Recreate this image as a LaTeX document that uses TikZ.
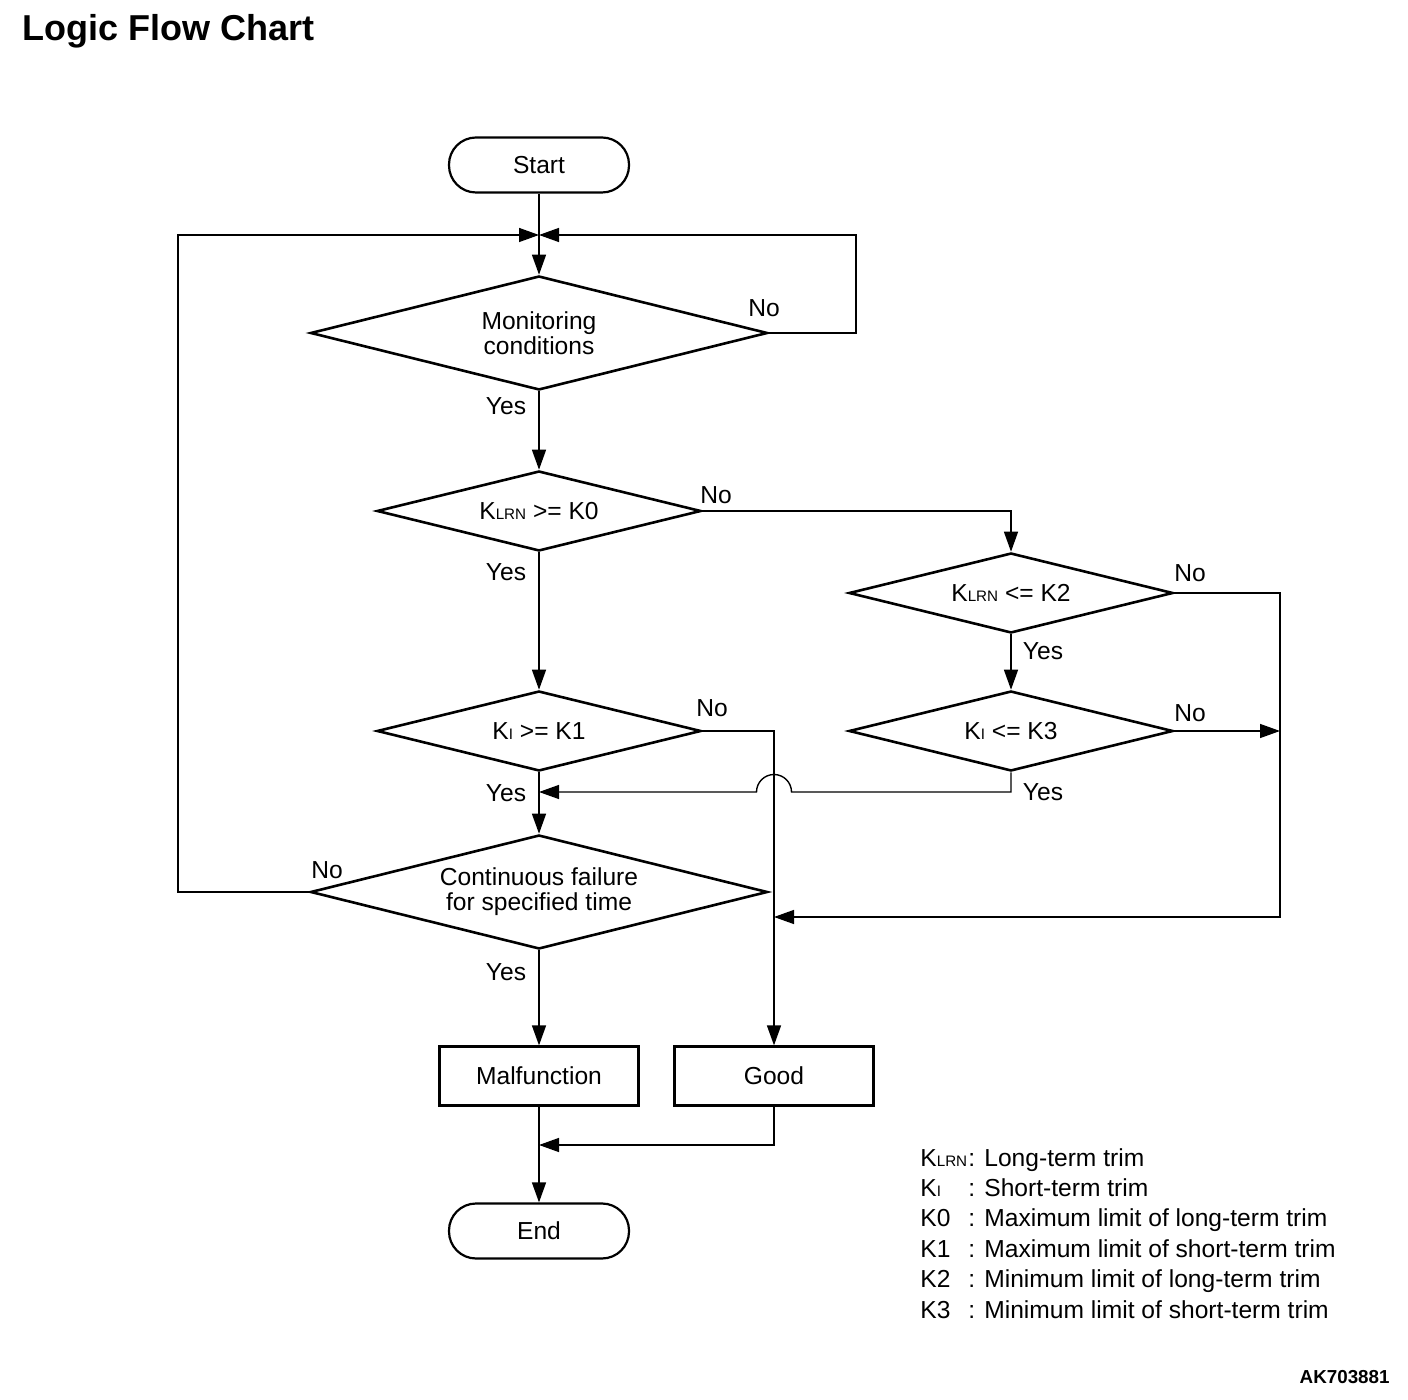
\documentclass[tikz,border=0pt]{standalone}
\usepackage{fontspec}
\setmainfont{Liberation Sans}
\usetikzlibrary{arrows.meta,shapes.geometric,positioning}
\newcommand{\kidx}[1]{{\fontsize{7.6}{8}\selectfont #1}}

\begin{document}
\begin{tikzpicture}[x=0.5pt, y=-0.5pt, every node/.style={font=\fontsize{12.3}{12.5}\selectfont}]
\tikzstyle{terminal} = [shape=rectangle, rounded corners=13.5pt, draw, line width=1.1pt, minimum width=90pt, minimum height=27.5pt, inner sep=0pt];
\tikzstyle{process} = [shape=rectangle, draw, line width=1.1pt, minimum width=99.5pt, minimum height=29.5pt, inner sep=0pt];
\tikzstyle{decision} = [shape=diamond, aspect=4, draw, line width=1.3pt, inner sep=0pt, minimum width=162pt, minimum height=40pt, align=center];
\tikzstyle{bigdecision} = [decision, minimum width=228.5pt, minimum height=57pt];
\tikzstyle{answer} = [inner sep=0pt];
\tikzstyle{flow} = [-{Triangle[length=10pt,width=7pt]}, line width=0.7pt];

\useasboundingbox (0,0) rectangle (1408,1400);

\node[anchor=base west, inner sep=0pt, font=\fontsize{18}{20}\selectfont\bfseries] (title) at (22,41) {Logic Flow Chart};

\node[terminal](start) at (539,165) {Start};
\node[bigdecision](mon) at (539,333) {Monitoring\\conditions};
\node[decision](klrnk0) at (539,511) {K\kidx{LRN} >= K0};
\node[decision](klrnk2) at (1011,593) {K\kidx{LRN} <= K2};
\node[decision](kik1) at (539,731) {K\kidx{I} >= K1};
\node[decision](kik3) at (1011,731) {K\kidx{I} <= K3};
\node[bigdecision](fail) at (539,892) {Continuous failure\\for specified time};
\node[process](malf) at (539,1076) {Malfunction};
\node[process](good) at (774,1076) {Good};
\node[terminal](end) at (539,1231) {End};

% joints of the connectors
\coordinate (merge) at (539,235);
\coordinate (loopL) at (178,235);
\coordinate (loopR) at (856,235);
\coordinate (joinR) at (1280,731);
\coordinate (joinG) at (774,917);
\coordinate (hop) at (791.5,792);
\coordinate (joinY) at (539,792);
\coordinate (joinE) at (539,1145);

\draw[line width=0.7pt] (start) -- (merge);
\draw[flow] (merge) -- (mon);
\draw[flow] (mon.east) -| (loopR) -- (merge);
\draw[flow] (fail.west) -| (loopL) -- (merge);
\draw[flow] (mon) -- (klrnk0);
\draw[flow] (klrnk0) -- (kik1);
\draw[flow] (klrnk0.east) -| (klrnk2.north);
\draw[flow] (klrnk2) -- (kik3);
\draw[flow] (klrnk2.east) -| (joinR) |- (joinG);
\draw[flow] (kik3.east) -- (joinR);
\draw[flow] (kik3.south) |- (hop) arc (0:-180:17.5) -- (joinY);
\draw[flow] (kik1) -- (fail);
\draw[flow] (kik1.east) -| (good.north);
\draw[flow] (fail) -- (malf);
\draw[flow] (malf) -- (end);
\draw[flow] (good.south) |- (joinE);

% yes / no
\node[answer](monNo) at (764,308) {No};
\node[answer](monYes) at (506,406) {Yes};
\node[answer](k0No) at (716,495) {No};
\node[answer](k0Yes) at (506,572) {Yes};
\node[answer](k2No) at (1190,573) {No};
\node[answer](k2Yes) at (1043,651) {Yes};
\node[answer](k3No) at (1190,713) {No};
\node[answer](k3Yes) at (1043,792) {Yes};
\node[answer](k1No) at (712,708) {No};
\node[answer](k1Yes) at (506,793) {Yes};
\node[answer](failNo) at (327,870) {No};
\node[answer](failYes) at (506,972) {Yes};

% legend
\foreach \key/\desc [count=\i] in {K\kidx{LRN}/Long-term trim, K\kidx{I}/Short-term trim, K0/Maximum limit of long-term trim, K1/Maximum limit of short-term trim, K2/Minimum limit of long-term trim, K3/Minimum limit of short-term trim}
{
  \node[anchor=base west, inner sep=0pt](key\i) at (920,{1166+30.4*(\i-1)}) {\key};
  \node[anchor=base west, inner sep=0pt](desc\i) at (968,{1166+30.4*(\i-1)}) {: \desc};
}

\node[anchor=east, inner sep=0pt, font=\fontsize{9.4}{10}\selectfont\bfseries](code) at (1390,1377) {AK703881};
\end{tikzpicture}
\end{document}
